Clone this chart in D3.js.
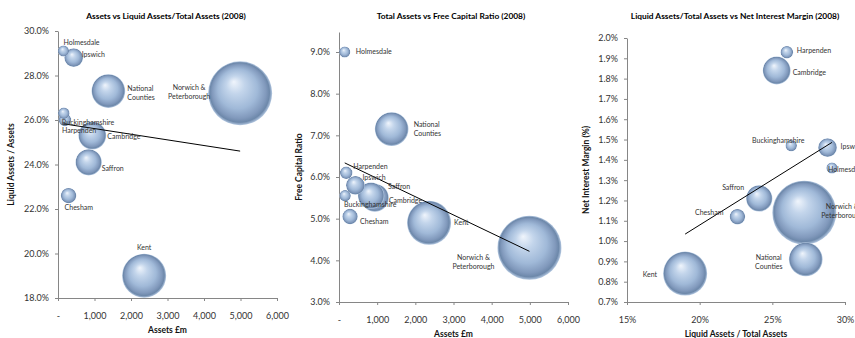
<!DOCTYPE html>
<html>
<head>
<meta charset="utf-8">
<script src="https://cdn.jsdelivr.net/npm/d3@7"></script>
<style>
    body { margin: 0; background: #fff; }
    svg text { font-family: Lato, "Open Sans", sans-serif; }
</style>
</head>
<body>
<div id="chart"></div>
<script>
var societies = ["Holmesdale", "Ipswich", "National Counties", "Norwich & Peterborough", "Buckinghamshire",
                 "Harpenden", "Cambridge", "Saffron", "Chesham", "Kent"];
var assets = [150, 430, 1380, 4990, 160, 190, 940, 840, 290, 2360];          // £m
var liquidRatio = [29.1, 28.8, 27.3, 27.2, 26.3, 26.0, 25.3, 24.1, 22.6, 19.0]; // %
var freeCapital = [9.0, 5.8, 7.15, 4.3, 5.55, 6.1, 5.5, 5.55, 5.05, 4.9];       // %
var interestMargin = [1.36, 1.46, 0.91, 1.14, 1.47, 1.93, 1.84, 1.21, 1.12, 0.84]; // %

var assetTicks = [0, 1000, 2000, 3000, 4000, 5000, 6000];
var liquidTicks = [18, 20, 22, 24, 26, 28, 30];
var capitalTicks = [3, 4, 5, 6, 7, 8, 9];
var ratioTicks = [15, 20, 25, 30];
var marginTicks = [0.7, 0.8, 0.9, 1.0, 1.1, 1.2, 1.3, 1.4, 1.5, 1.6, 1.7, 1.8, 1.9, 2.0];

var width = 855,
    height = 338;

var fmtAssets = function(v){ return v === 0 ? "-" : d3.format(",")(v); };
var fmtPct1 = function(v){ return v.toFixed(1) + "%"; };
var fmtPct0 = function(v){ return v + "%"; };

// label placement: [dx, dy, anchor] relative to bubble centre
var charts = [
    {
        title: "Assets vs Liquid Assets/Total Assets (2008)", titleX: 166,
        x: assets, y: liquidRatio, xDomain: [0, 6000], yDomain: [18, 30],
        xTicks: assetTicks, yTicks: liquidTicks, xFmt: fmtAssets, yFmt: fmtPct1,
        xTitle: "Assets \u00a3m", yTitle: "Liquid Assets / Assets",
        left: 58, right: 277, top: 31, bottom: 298, yTitleX: 12,
        labels: {
            "Holmesdale": [0, -8, "start"], "Ipswich": [8, -2, "start"],
            "National Counties": [19, -2, "start"], "Norwich & Peterborough": [-51, -5, "middle"],
            "Buckinghamshire": [-2, 10, "start"], "Harpenden": [-3, 11, "start"],
            "Cambridge": [15, 2, "start"], "Saffron": [13, 7, "start"],
            "Chesham": [-4, 13, "start"], "Kent": [0, -28, "middle"]
        }
    },
    {
        title: "Total Assets vs Free Capital Ratio (2008)", titleX: 451,
        x: assets, y: freeCapital, xDomain: [0, 6000], yDomain: [3, 9.48],
        xTicks: assetTicks, yTicks: capitalTicks, xFmt: fmtAssets, yFmt: fmtPct1,
        xTitle: "Assets \u00a3m", yTitle: "Free Capital Ratio",
        left: 339, right: 568, top: 32, bottom: 302, yTitleX: 300,
        labels: {
            "Holmesdale": [11, 0, "start"], "Ipswich": [7, -7, "start"],
            "National Counties": [22, -4, "start"], "Norwich & Peterborough": [-56, 10, "middle"],
            "Buckinghamshire": [-1, 9, "start"], "Harpenden": [7, -6, "start"],
            "Cambridge": [14, 3, "start"], "Saffron": [17, -9, "start"],
            "Chesham": [10, 6, "start"], "Kent": [25, 0, "start"]
        }
    },
    {
        title: "Liquid Assets/Total Assets vs Net Interest Margin (2008)", titleX: 735,
        x: liquidRatio, y: interestMargin, xDomain: [15, 30], yDomain: [0.7, 2.0],
        xTicks: ratioTicks, yTicks: marginTicks, xFmt: fmtPct0, yFmt: fmtPct1,
        xTitle: "Liquid Assets / Total Assets", yTitle: "Net Interest Margin (%)",
        left: 627, right: 845, top: 38, bottom: 302, yTitleX: 587,
        labels: {
            "Holmesdale": [-4, 2, "start"], "Ipswich": [13, 0, "start"],
            "National Counties": [-37, -1, "middle"], "Norwich & Peterborough": [38, -5, "middle"],
            "Buckinghamshire": [-13, -4, "middle"], "Harpenden": [10, -1, "start"],
            "Cambridge": [16, 3, "start"], "Saffron": [-15, -10, "end"],
            "Chesham": [-14, -3, "end"], "Kent": [-28, 2, "end"]
        }
    }
];

var svg = d3.select("#chart").append("svg")
    .attr("width", width)
    .attr("height", height);

// shaded sphere fill
var grad = svg.append("defs").append("radialGradient")
    .attr("id", "ball")
    .attr("cx", "50%").attr("cy", "50%").attr("r", "50%")
    .attr("fx", "40%").attr("fy", "32%");
[[0, "#f0f5fc"], [0.28, "#c3d5eb"], [0.62, "#a0b9d8"], [0.84, "#8199bc"], [0.93, "#6d88aa"], [1, "#b5c9e2"]]
    .forEach(function(s){ grad.append("stop").attr("offset", s[0]).attr("stop-color", s[1]); });

var rScale = d3.scaleSqrt().domain([0, d3.max(assets)]).range([0, 32]);

function labelLines(name){
    if(name === "National Counties") return ["National", "Counties"];
    if(name === "Norwich & Peterborough") return ["Norwich &", "Peterborough"];
    return [name];
}

function trend(xs, ys){
    var mx = d3.mean(xs), my = d3.mean(ys);
    var sxy = d3.sum(xs, function(v, i){ return (v - mx) * (ys[i] - my); });
    var sxx = d3.sum(xs, function(v){ return (v - mx) * (v - mx); });
    var b = sxy / sxx;
    return function(v){ return my + b * (v - mx); };
}

charts.forEach(function(c){
    var x = d3.scaleLinear().domain(c.xDomain).range([c.left, c.right]);
    var y = d3.scaleLinear().domain(c.yDomain).range([c.bottom, c.top]);
    var g = svg.append("g");

    g.append("text")
        .attr("x", c.titleX).attr("y", 17)
        .attr("text-anchor", "middle").attr("dominant-baseline", "middle")
        .style("font-size", "8.4px").style("font-weight", "bold").style("fill", "#000")
        .text(c.title);

    var xAxis = g.append("g")
        .attr("transform", "translate(0," + c.bottom + ")")
        .call(d3.axisBottom(x).tickValues(c.xTicks).tickFormat(c.xFmt).tickSize(3).tickSizeOuter(0).tickPadding(12));
    var yAxis = g.append("g")
        .attr("transform", "translate(" + c.left + ",0)")
        .call(d3.axisLeft(y).tickValues(c.yTicks).tickFormat(c.yFmt).tickSize(3).tickSizeOuter(0).tickPadding(6));
    [xAxis, yAxis].forEach(function(a){
        a.select(".domain").attr("stroke", "#868686");
        a.selectAll(".tick line").attr("stroke", "#868686");
        a.selectAll(".tick text").style("font-size", "9px").style("fill", "#333").attr("font-family", null);
    });

    g.append("text")
        .attr("x", (c.left + c.right) / 2).attr("y", c.bottom + 33)
        .attr("text-anchor", "middle").attr("dominant-baseline", "middle")
        .style("font-size", "8.5px").style("font-weight", "bold").style("fill", "#111")
        .text(c.xTitle);

    g.append("text")
        .attr("transform", "translate(" + c.yTitleX + "," + ((c.top + c.bottom) / 2) + ") rotate(-90)")
        .attr("text-anchor", "middle").attr("dominant-baseline", "middle")
        .style("font-size", "8.5px").style("font-weight", "bold").style("fill", "#111")
        .text(c.yTitle);

    var points = societies.map(function(n, i){
        return {name: n, x: c.x[i], y: c.y[i], size: assets[i]};
    }).sort(function(a, b){ return b.size - a.size; });

    g.selectAll(".bubble")
        .data(points)
        .enter().append("circle")
        .attr("class", "bubble")
        .attr("cx", function(d){ return x(d.x); })
        .attr("cy", function(d){ return y(d.y); })
        .attr("r", function(d){ return rScale(d.size); })
        .attr("fill", "url(#ball)");

    // linear trend line across the x range of the data
    var f = trend(c.x, c.y);
    var ext = d3.extent(c.x);
    g.append("line")
        .attr("x1", x(ext[0])).attr("y1", y(f(ext[0])))
        .attr("x2", x(ext[1])).attr("y2", y(f(ext[1])))
        .attr("stroke", "#000").attr("stroke-width", 1);

    var labels = g.selectAll(".label")
        .data(points)
        .enter().append("text")
        .attr("class", "label")
        .attr("text-anchor", function(d){ return c.labels[d.name][2]; })
        .style("font-size", "7px").style("fill", "#333");
    labels.each(function(d){
        var p = c.labels[d.name];
        var t = d3.select(this);
        labelLines(d.name).forEach(function(line, k){
            t.append("tspan")
                .attr("x", x(d.x) + p[0])
                .attr("y", y(d.y) + p[1] + k * 9)
                .attr("dominant-baseline", "middle")
                .text(line);
        });
    });
});
</script>
</body>
</html>
